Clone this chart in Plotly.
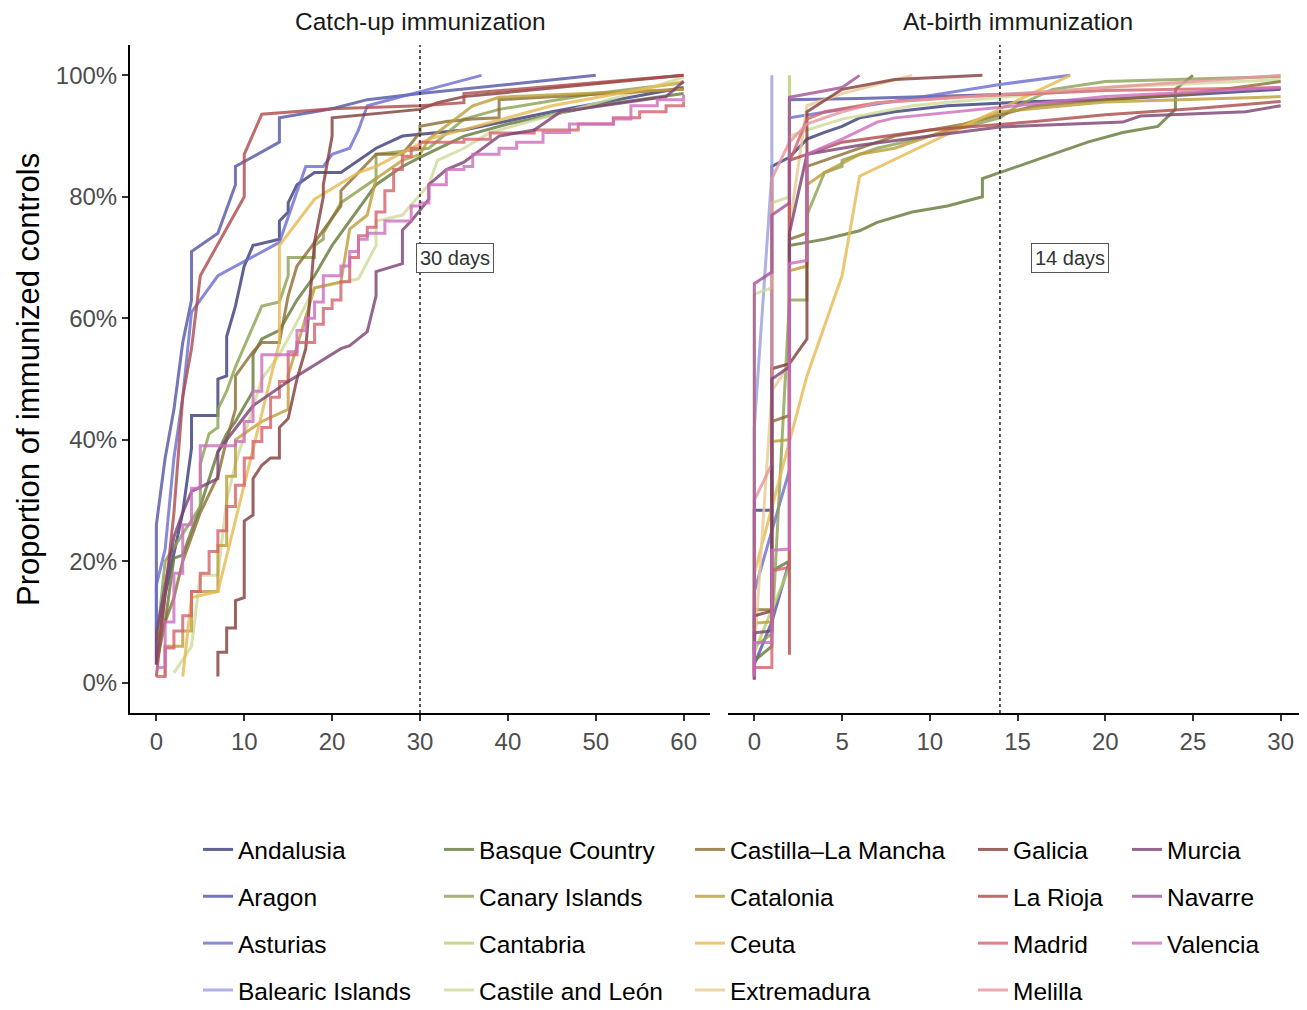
import plotly.graph_objects as go

# ---------------- data (days, % immunized) ----------------
regions = ["Andalusia", "Aragon", "Asturias", "Balearic Islands",
           "Basque Country", "Canary Islands", "Cantabria", "Castile and León",
           "Castilla–La Mancha", "Catalonia", "Ceuta", "Extremadura",
           "Galicia", "La Rioja", "Madrid", "Melilla",
           "Murcia", "Navarre", "Valencia"]
colors = ["#393b79", "#5254a3", "#6b6ecf", "#9c9ede",
          "#637939", "#8ca252", "#b5cf6b", "#cedb9c",
          "#8c6d31", "#bd9e39", "#e7ba52", "#e7cb94",
          "#843c39", "#ad494a", "#d6616b", "#e7969c",
          "#7b4173", "#a55194", "#ce6dbd"]

# Catch-up immunization
andalusia_cu_days = [0, 1, 3, 4, 4, 7, 7, 8, 8, 9, 10, 11, 14, 14, 15, 15, 16, 18, 21, 25, 28, 35, 45, 60]
andalusia_cu_pct = [4, 14.5, 28, 38.6, 44, 44, 50, 50.5, 57, 62, 68.6, 72, 73, 76, 77.5, 79, 82, 84, 84, 88, 90, 91, 94, 98]
aragon_cu_days = [0, 0, 1, 2, 3, 4, 4, 7, 9, 9, 14, 14, 20, 24, 30, 50]
aragon_cu_pct = [8, 26, 37, 45, 56, 63, 71, 74, 82, 85, 89, 93, 94.5, 96, 97, 100]
asturias_cu_days = [0, 0, 1, 2, 3, 4, 7, 14, 17, 19, 20, 22, 23, 24, 31, 37]
asturias_cu_pct = [3, 16, 22, 37, 47, 61, 67, 72.5, 85, 85, 87, 88, 91, 95, 97.7, 100]
basque_cu_days = [0, 1, 2, 3, 5, 7, 8, 9, 11, 11, 12, 14, 16, 18, 20, 22, 25, 28, 30, 35, 40, 50, 60]
basque_cu_pct = [3, 10, 20.5, 21, 29, 38, 41, 43, 48, 54, 56.6, 58, 63, 67, 72, 76, 82, 85, 86.5, 90, 92, 95, 97]
canary_cu_days = [0, 1, 5, 5, 6, 7, 7, 8, 9, 12, 14, 15, 15, 18, 18, 19, 19, 21, 25, 25, 31, 35, 39, 50, 60]
canary_cu_pct = [6, 20, 29, 36, 41, 42, 45, 48, 52, 62, 62.7, 67, 70, 70, 72, 73, 74, 79, 83, 87, 88, 92.8, 94.4, 97, 98.8]
castile_leon_cu_days = [2, 4, 5, 7, 8, 9, 12, 14, 16, 18, 23, 25, 25, 28, 31, 32, 35, 38, 54, 60]
castile_leon_cu_pct = [1.6, 6, 17.7, 17.7, 30, 36, 50, 54, 59.4, 65, 66.5, 72, 76, 77, 82, 86, 88, 90.6, 97, 99.7]
clm_cu_days = [0, 1, 2, 3, 4, 5, 6, 7, 8, 9, 9, 11, 12, 14, 15, 16, 18, 21, 21, 23, 25, 28, 30, 30, 33, 36, 39, 39, 60]
clm_cu_pct = [7, 10, 14, 20, 24, 28, 31, 34, 40, 45, 50.5, 54.5, 56, 56, 63.7, 68.6, 72.5, 78.5, 81, 84, 87, 87, 90.6, 91.6, 92.4, 92.8, 93, 96, 97.7]
catalonia_cu_days = [1, 1, 3, 3, 4, 4, 7, 7, 8, 8, 9, 9, 11, 12, 15, 15, 18, 21, 22, 24, 25, 28, 30, 31, 36, 39, 60]
catalonia_cu_pct = [1, 6, 6, 8.5, 8.5, 15, 15, 22.6, 22.6, 34, 34, 40, 42, 43, 45, 50.6, 65, 66, 74.7, 77, 83, 86, 87, 89.5, 95, 96.4, 97.7]
ceuta_cu_days = [3, 4, 7, 14, 14, 18, 23, 25, 31, 45, 60]
ceuta_cu_pct = [1, 14, 15, 56, 72, 79.6, 84, 85, 89.5, 95, 99]
galicia_cu_days = [7, 7, 8, 8, 9, 9, 10, 10, 11, 11, 12, 13, 14, 14, 15, 16, 17, 18, 19, 19, 20, 20, 30, 32, 35, 60]
galicia_cu_pct = [1, 5, 5, 9, 9, 13.5, 14, 26.6, 27.6, 33.6, 35.8, 37, 37, 42, 43.5, 50, 55, 72.6, 80, 82, 90, 93, 94.4, 95.5, 96.5, 100]
la_rioja_cu_days = [0, 1, 2, 3, 4, 5, 10, 10, 12, 20, 30, 35, 35, 60]
la_rioja_cu_pct = [1, 15, 28, 47, 55, 67, 80, 87, 93.6, 94.5, 95, 95.5, 97, 100]
madrid_cu_days = [0, 1, 2, 3, 4, 5, 6, 7, 8, 9, 10, 11, 12, 13, 14, 15, 16, 18, 19, 20, 21, 22, 23, 24, 25, 26, 27, 28, 29, 30, 35, 38, 43, 48, 52, 55, 58, 60]
madrid_cu_pct = [1, 5.7, 8.5, 11, 15, 18, 21.6, 25, 29, 32.5, 37, 39.7, 42, 47, 49.6, 54, 56, 59, 61.6, 63, 66, 70, 73.6, 75, 77.5, 81, 84.5, 86.7, 88, 89, 89.5, 90.5, 91, 92, 93, 94, 95, 95.7]
murcia_cu_days = [0, 0, 2, 3, 4, 7, 7, 8, 11, 15, 21, 22, 24, 25, 25, 28, 28, 29, 31, 31, 33, 35, 39, 43, 46, 58, 60]
murcia_cu_pct = [3, 8, 24, 28, 31.5, 33.6, 38, 40, 45.6, 49.6, 55, 55.5, 57.8, 63.7, 67.7, 69, 74.5, 76, 79.6, 82, 84.5, 85.7, 90, 91, 94, 96.5, 99]
valencia_cu_days = [0, 1, 2, 3, 4, 5, 9, 10, 11, 12, 15, 16, 17, 18, 19, 21, 22, 23, 24, 26, 29, 30, 31, 33, 35, 36, 39, 41, 44, 47, 52, 54, 57, 60]
valencia_cu_pct = [2.5, 10, 18, 26, 32, 39, 39.7, 43, 48, 54, 54.5, 58, 60, 62.7, 67, 68.6, 71, 73, 74, 76, 78.5, 79, 82, 84.5, 85, 87, 88, 89, 90.6, 92, 92.8, 95, 96, 96.8]

# At-birth immunization
andalusia_ab_days = [0, 0, 1, 1, 2, 3, 4, 5, 6, 8, 11, 16, 20, 26, 30]
andalusia_ab_pct = [5, 28.4, 28.4, 85, 86.5, 89.5, 90.6, 91.6, 93, 94, 95, 95.7, 96, 97, 97.7]
aragon_ab_days = [0, 1, 2, 2, 6, 10, 16]
aragon_ab_pct = [3, 10, 20, 96, 96.2, 96.5, 97]
asturias_ab_days = [0, 0, 2, 2, 14, 18]
asturias_ab_pct = [5, 15, 35, 93, 98.5, 100]
balearic_ab_days = [0, 0, 1, 1]
balearic_ab_pct = [8, 42, 84, 100]
basque_ab_days = [0, 0, 1, 1, 2, 2, 3, 4, 6, 7, 9, 11, 13, 13, 16, 19, 21, 23, 24, 24, 25]
basque_ab_pct = [1, 3.6, 6, 18.4, 20, 72, 72.5, 73, 74.4, 75.8, 77.5, 78.5, 80, 83, 86, 89, 90.6, 91.6, 94.4, 97.7, 100]
canary_ab_days = [0, 0, 1, 2, 2, 3, 3, 4, 5, 5, 7, 10, 14, 15, 17, 20, 30]
canary_ab_pct = [2, 6, 8, 62, 63, 63, 77, 84, 85, 86, 88, 90, 93, 95, 97.7, 99, 99.8]
cantabria_ab_days = [0, 2, 2]
cantabria_ab_pct = [5, 19, 100]
castile_leon_ab_days = [0, 0, 1, 1, 2, 2, 3, 5, 9, 20, 30]
castile_leon_ab_pct = [8, 64, 65, 79, 80, 90, 91, 92.8, 95, 98, 99.3]
clm_ab_days = [0, 0, 1, 1, 2, 2, 3, 3, 4, 6, 8, 12, 16, 20, 25, 30]
clm_ab_pct = [9, 12, 12, 43, 44, 73, 74, 85, 86, 88, 90, 92, 95, 96, 97, 99]
catalonia_ab_days = [0, 0, 1, 1, 2, 2, 3, 3, 4, 6, 8, 10, 14, 20, 30]
catalonia_ab_pct = [3, 9.8, 10, 39.7, 40, 67.8, 68.6, 82, 84, 87, 88, 90, 94, 95.6, 96.5]
ceuta_ab_days = [0, 0, 3, 5, 6, 18]
ceuta_ab_pct = [1, 18, 50.5, 67, 83.4, 100]
extremadura_ab_days = [0, 1, 2, 2, 3, 5, 9]
extremadura_ab_pct = [5, 48, 52.5, 75, 95, 97, 100]
galicia_ab_days = [0, 0, 1, 1, 2, 3, 3, 5, 8, 13]
galicia_ab_pct = [1, 11, 11.8, 51.7, 52.5, 56.6, 94, 97.7, 99.3, 100]
la_rioja_ab_days = [2, 2, 3, 5, 10, 16, 20, 25, 30]
la_rioja_ab_pct = [4.6, 86, 87, 89, 91, 92.4, 93.5, 94.5, 95.7]
madrid_ab_days = [0, 0, 1, 1, 2, 2, 3, 4, 7, 12, 20, 30]
madrid_ab_pct = [0.5, 2.5, 2.5, 18.4, 19, 85.7, 92.8, 94, 95.5, 96.5, 97.5, 98]
melilla_ab_days = [0, 0, 1, 1, 2, 3, 5, 7, 15, 30]
melilla_ab_pct = [2, 30, 36, 83, 89, 92, 94, 95.5, 97, 100]
murcia_ab_days = [0, 0, 1, 1, 2, 2, 3, 6, 10, 14, 21, 22, 28, 30]
murcia_ab_pct = [0.5, 8.2, 8.5, 50, 52, 74, 87, 88.5, 90, 91.5, 92.3, 93.3, 94, 95]
navarre_ab_days = [0, 0, 1, 1, 2, 2, 5, 6]
navarre_ab_pct = [0.5, 65.7, 67.6, 77, 79, 96.4, 98, 100]
valencia_ab_days = [0, 0, 1, 1, 2, 2, 3, 3, 5, 7, 8, 10, 15, 20, 30]
valencia_ab_pct = [1, 6.6, 6.6, 21.8, 22, 69, 69.5, 87, 89.5, 92.3, 93, 93.6, 95, 96.5, 98]

cutoffs = [30, 14]
cutoff_labels = ["30 days", "14 days"]
panel_titles = ["Catch-up immunization", "At-birth immunization"]
x_ticks_cu = [0, 10, 20, 30, 40, 50, 60]
x_ticks_ab = [0, 5, 10, 15, 20, 25, 30]
y_ticks = [0, 0.2, 0.4, 0.6, 0.8, 1.0]
y_ticklabels = ["0%", "20%", "40%", "60%", "80%", "100%"]

catch_up = {
    "Andalusia": (andalusia_cu_days, andalusia_cu_pct),
    "Aragon": (aragon_cu_days, aragon_cu_pct),
    "Asturias": (asturias_cu_days, asturias_cu_pct),
    "Basque Country": (basque_cu_days, basque_cu_pct),
    "Canary Islands": (canary_cu_days, canary_cu_pct),
    "Castile and León": (castile_leon_cu_days, castile_leon_cu_pct),
    "Castilla–La Mancha": (clm_cu_days, clm_cu_pct),
    "Catalonia": (catalonia_cu_days, catalonia_cu_pct),
    "Ceuta": (ceuta_cu_days, ceuta_cu_pct),
    "Galicia": (galicia_cu_days, galicia_cu_pct),
    "La Rioja": (la_rioja_cu_days, la_rioja_cu_pct),
    "Madrid": (madrid_cu_days, madrid_cu_pct),
    "Murcia": (murcia_cu_days, murcia_cu_pct),
    "Valencia": (valencia_cu_days, valencia_cu_pct),
}
at_birth = {
    "Andalusia": (andalusia_ab_days, andalusia_ab_pct),
    "Aragon": (aragon_ab_days, aragon_ab_pct),
    "Asturias": (asturias_ab_days, asturias_ab_pct),
    "Balearic Islands": (balearic_ab_days, balearic_ab_pct),
    "Basque Country": (basque_ab_days, basque_ab_pct),
    "Canary Islands": (canary_ab_days, canary_ab_pct),
    "Cantabria": (cantabria_ab_days, cantabria_ab_pct),
    "Castile and León": (castile_leon_ab_days, castile_leon_ab_pct),
    "Castilla–La Mancha": (clm_ab_days, clm_ab_pct),
    "Catalonia": (catalonia_ab_days, catalonia_ab_pct),
    "Ceuta": (ceuta_ab_days, ceuta_ab_pct),
    "Extremadura": (extremadura_ab_days, extremadura_ab_pct),
    "Galicia": (galicia_ab_days, galicia_ab_pct),
    "La Rioja": (la_rioja_ab_days, la_rioja_ab_pct),
    "Madrid": (madrid_ab_days, madrid_ab_pct),
    "Melilla": (melilla_ab_days, melilla_ab_pct),
    "Murcia": (murcia_ab_days, murcia_ab_pct),
    "Navarre": (navarre_ab_days, navarre_ab_pct),
    "Valencia": (valencia_ab_days, valencia_ab_pct),
}

# ---------------- figure ----------------
# the page body has an 8px default margin, so the figure is laid out 8px smaller
FONT = "Liberation Sans, Arial, Helvetica, sans-serif"
OFF = 8
W, H = 1307 - OFF, 1010 - OFF
ML, MR, MT = 130 - OFF, 0, 45 - OFF
PLOT_BOTTOM = 713 - OFF
MB = H - PLOT_BOTTOM
PW = W - ML - MR
PH = H - MT - MB
STEP_SERIES = {"Madrid", "Valencia"}

fig = go.Figure()
legend_of = {}
for i, r in enumerate(regions):
    legend_of[r] = "legend" if i < 4 else "legend%d" % (i // 4 + 1)

for r, c in zip(regions, colors):
    if r in catch_up:
        d, p = catch_up[r]
        fig.add_trace(go.Scatter(
            x=d, y=[v / 100 for v in p], mode="lines", name=r,
            line=dict(color=c, width=3, shape="hv" if r in STEP_SERIES else "linear"),
            opacity=0.8, legendgroup=r, showlegend=False,
            xaxis="x", yaxis="y"))
for r, c in zip(regions, colors):
    d, p = at_birth[r]
    fig.add_trace(go.Scatter(
        x=d, y=[v / 100 for v in p], mode="lines", name=r,
        line=dict(color=c, width=3),
        opacity=0.8, legendgroup=r, showlegend=True, legend=legend_of[r],
        xaxis="x2", yaxis="y2"))

d1_end = (710 - OFF - ML) / PW
d2_start = (728 - OFF - ML) / PW
tickfont = dict(family=FONT, size=24, color="#4d4d4d")
common_x = dict(showgrid=False, zeroline=False, showline=True, linecolor="black",
                linewidth=2, ticks="outside", ticklen=6, tickwidth=1.5,
                tickcolor="#333333", tickfont=tickfont, automargin=False)
fig.update_layout(
    width=W, height=H,
    margin=dict(l=ML, r=MR, t=MT, b=MB, autoexpand=False),
    paper_bgcolor="white", plot_bgcolor="white",
    font=dict(family=FONT, color="black"),
    xaxis=dict(domain=[0, d1_end], range=[-3, 63], tickvals=x_ticks_cu, anchor="y", **common_x),
    xaxis2=dict(domain=[d2_start, 1], range=[-1.5, 31.5], tickvals=x_ticks_ab, anchor="y2", **common_x),
    yaxis=dict(domain=[0, 1], range=[-0.05, 1.05], tickvals=y_ticks, ticktext=y_ticklabels,
               showgrid=False, zeroline=False, showline=True, linecolor="black", linewidth=2,
               ticks="outside", ticklen=6, tickwidth=1.5, tickcolor="#333333",
               tickfont=tickfont, anchor="x", automargin=False),
    yaxis2=dict(domain=[0, 1], range=[-0.05, 1.05], showgrid=False, zeroline=False,
                showline=False, showticklabels=False, ticks="", anchor="x2", automargin=False),
)

# legends: five columns
col_text_x = [238, 479, 730, 1013, 1167]
for k, tx in enumerate(col_text_x):
    key = "legend" if k == 0 else "legend%d" % (k + 1)
    fig.update_layout(**{key: dict(
        x=(tx - 48) / W, xref="container", xanchor="left",
        y=1 - 819 / H, yref="container", yanchor="top",
        orientation="v", bgcolor="rgba(0,0,0,0)", borderwidth=0,
        font=dict(family=FONT, size=24.5, color="black"),
        tracegroupgap=12, itemwidth=30)})

# dotted cutoff lines and labels
for ax, cut, lab in zip(["x", "x2"], cutoffs, cutoff_labels):
    fig.add_shape(type="line", xref=ax, x0=cut, x1=cut,
                  yref="y domain" if ax == "x" else "y2 domain", y0=0, y1=1,
                  line=dict(color="#222222", width=1.5, dash="dot"))
    fig.add_annotation(xref=ax, yref="y" if ax == "x" else "y2", x=cut + 4, y=0.70,
                       text=lab, showarrow=False, xanchor="center", yanchor="middle",
                       font=dict(family=FONT, size=20, color="#333333"),
                       bgcolor="white", bordercolor="#555555", borderwidth=1, borderpad=3)

# panel titles
for title, (a, b) in zip(panel_titles, [(0, d1_end), (d2_start, 1)]):
    fig.add_annotation(xref="paper", yref="paper", x=(a + b) / 2, y=1 + (MT - (22 - OFF)) / PH,
                       text=title, showarrow=False, xanchor="center", yanchor="middle",
                       font=dict(family=FONT, size=24.5, color="#1a1a1a"))

# y axis title
fig.add_annotation(xref="paper", yref="paper", x=(28 - OFF - ML) / PW, y=(MT + PH - (380 - OFF)) / PH,
                   text="Proportion of immunized controls", textangle=-90, showarrow=False,
                   xanchor="center", yanchor="middle",
                   font=dict(family=FONT, size=31, color="black"))

fig.write_html("out.html")
